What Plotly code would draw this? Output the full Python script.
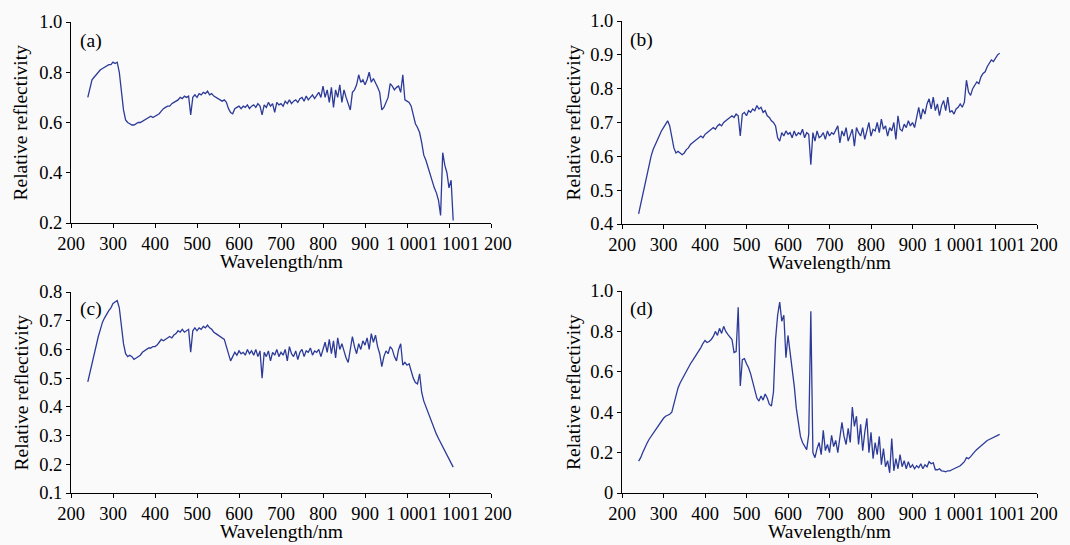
import plotly.graph_objects as go

# wavelength grid (nm), 5 nm spacing
wavelength = list(range(240, 1111, 5))

refl_a = [0.70, 0.74, 0.77, 0.78, 0.79, 0.80, 0.81, 0.815, 0.82, 0.825, 0.83, 0.83, 0.84, 0.835, 0.84,
          0.80, 0.72, 0.65, 0.61, 0.60, 0.595, 0.59, 0.59, 0.595, 0.60, 0.60, 0.605, 0.61, 0.615, 0.62,
          0.625, 0.62, 0.625, 0.63, 0.635, 0.645, 0.655, 0.66, 0.665, 0.665, 0.675, 0.68, 0.685, 0.69,
          0.70, 0.695, 0.705, 0.70, 0.705, 0.63, 0.70, 0.71, 0.70, 0.715, 0.71, 0.72, 0.715, 0.725,
          0.71, 0.715, 0.705, 0.70, 0.695, 0.69, 0.685, 0.69, 0.68, 0.655, 0.64, 0.635, 0.655, 0.66,
          0.665, 0.655, 0.665, 0.66, 0.67, 0.655, 0.665, 0.67, 0.66, 0.675, 0.665, 0.63, 0.67, 0.66,
          0.68, 0.665, 0.675, 0.64, 0.68, 0.67, 0.675, 0.665, 0.685, 0.675, 0.69, 0.675, 0.685, 0.69,
          0.68, 0.695, 0.70, 0.685, 0.705, 0.69, 0.70, 0.71, 0.695, 0.71, 0.72, 0.70, 0.745, 0.70,
          0.73, 0.68, 0.74, 0.66, 0.73, 0.70, 0.75, 0.68, 0.73, 0.70, 0.67, 0.65, 0.72, 0.73, 0.75,
          0.79, 0.76, 0.77, 0.75, 0.77, 0.80, 0.76, 0.775, 0.76, 0.74, 0.72, 0.65, 0.66, 0.68, 0.70,
          0.755, 0.745, 0.73, 0.74, 0.745, 0.72, 0.79, 0.69, 0.685, 0.68, 0.665, 0.635, 0.595, 0.58,
          0.56, 0.52, 0.47, 0.45, 0.42, 0.39, 0.37, 0.34, 0.32, 0.29, 0.23, 0.48, 0.43, 0.40, 0.34,
          0.37, 0.21]

refl_b = [0.43, 0.46, 0.49, 0.52, 0.55, 0.575, 0.60, 0.62, 0.635, 0.65, 0.66, 0.675, 0.685, 0.695,
          0.705, 0.69, 0.66, 0.625, 0.61, 0.615, 0.61, 0.605, 0.61, 0.62, 0.625, 0.635, 0.64, 0.645,
          0.65, 0.655, 0.66, 0.655, 0.665, 0.67, 0.675, 0.68, 0.685, 0.68, 0.69, 0.695, 0.69, 0.70,
          0.705, 0.71, 0.715, 0.72, 0.715, 0.725, 0.72, 0.66, 0.725, 0.73, 0.72, 0.735, 0.73, 0.74,
          0.735, 0.75, 0.74, 0.745, 0.73, 0.735, 0.72, 0.715, 0.705, 0.70, 0.69, 0.655, 0.645, 0.67,
          0.66, 0.675, 0.665, 0.67, 0.655, 0.675, 0.66, 0.67, 0.665, 0.68, 0.655, 0.67, 0.665, 0.575,
          0.67, 0.645, 0.675, 0.655, 0.66, 0.67, 0.65, 0.675, 0.66, 0.67, 0.665, 0.68, 0.69, 0.64,
          0.675, 0.66, 0.685, 0.645, 0.665, 0.68, 0.63, 0.685, 0.67, 0.66, 0.685, 0.65, 0.675, 0.70,
          0.66, 0.68, 0.675, 0.70, 0.67, 0.71, 0.68, 0.69, 0.66, 0.685, 0.675, 0.70, 0.65, 0.72,
          0.68, 0.675, 0.695, 0.685, 0.705, 0.69, 0.70, 0.685, 0.715, 0.745, 0.71, 0.74, 0.725,
          0.755, 0.77, 0.74, 0.775, 0.735, 0.755, 0.72, 0.75, 0.765, 0.735, 0.775, 0.73, 0.735,
          0.725, 0.74, 0.745, 0.755, 0.745, 0.76, 0.825, 0.79, 0.78, 0.80, 0.81, 0.82, 0.815, 0.835,
          0.845, 0.85, 0.865, 0.875, 0.885, 0.88, 0.89, 0.90, 0.905]

refl_c = [0.487, 0.52, 0.555, 0.59, 0.62, 0.645, 0.67, 0.695, 0.71, 0.725, 0.735, 0.745, 0.76, 0.765,
          0.77, 0.745, 0.68, 0.62, 0.585, 0.575, 0.58, 0.575, 0.565, 0.57, 0.575, 0.58, 0.59, 0.595,
          0.60, 0.605, 0.605, 0.61, 0.61, 0.615, 0.625, 0.635, 0.63, 0.635, 0.64, 0.645, 0.64, 0.65,
          0.655, 0.665, 0.66, 0.67, 0.66, 0.665, 0.67, 0.59, 0.665, 0.675, 0.665, 0.675, 0.67, 0.68,
          0.675, 0.685, 0.675, 0.67, 0.66, 0.655, 0.65, 0.645, 0.64, 0.635, 0.61, 0.58, 0.56, 0.575,
          0.59, 0.58, 0.595, 0.585, 0.59, 0.58, 0.60, 0.585, 0.595, 0.58, 0.60, 0.575, 0.595, 0.50,
          0.59, 0.575, 0.595, 0.56, 0.59, 0.58, 0.60, 0.575, 0.59, 0.58, 0.60, 0.56, 0.61, 0.585,
          0.575, 0.595, 0.565, 0.59, 0.60, 0.575, 0.595, 0.59, 0.605, 0.58, 0.595, 0.59, 0.60, 0.575,
          0.60, 0.625, 0.59, 0.635, 0.585, 0.63, 0.57, 0.64, 0.60, 0.62, 0.595, 0.57, 0.555, 0.60,
          0.645, 0.61, 0.585, 0.62, 0.60, 0.63, 0.615, 0.64, 0.60, 0.655, 0.625, 0.65, 0.61, 0.585,
          0.54, 0.575, 0.595, 0.585, 0.61, 0.60, 0.575, 0.56, 0.60, 0.62, 0.545, 0.555, 0.545, 0.55,
          0.525, 0.50, 0.485, 0.48, 0.515, 0.45, 0.42, 0.40, 0.385, 0.365, 0.34, 0.32, 0.305, 0.29,
          0.275, 0.26, 0.245, 0.23, 0.215, 0.20, 0.19]

refl_d = [0.158, 0.175, 0.20, 0.225, 0.245, 0.265, 0.28, 0.295, 0.315, 0.33, 0.345, 0.36, 0.37,
          0.38, 0.385, 0.39, 0.40, 0.44, 0.49, 0.52, 0.545, 0.565, 0.585, 0.60, 0.62, 0.64, 0.655,
          0.67, 0.685, 0.70, 0.72, 0.74, 0.755, 0.745, 0.75, 0.76, 0.775, 0.80, 0.78, 0.815, 0.79,
          0.825, 0.80, 0.785, 0.77, 0.76, 0.695, 0.70, 0.92, 0.53, 0.66, 0.665, 0.64, 0.62, 0.59,
          0.545, 0.51, 0.47, 0.455, 0.48, 0.46, 0.49, 0.47, 0.44, 0.43, 0.50, 0.76, 0.88, 0.945,
          0.85, 0.88, 0.67, 0.78, 0.70, 0.60, 0.53, 0.42, 0.34, 0.28, 0.25, 0.23, 0.215, 0.29, 0.90,
          0.20, 0.175, 0.22, 0.25, 0.19, 0.31, 0.21, 0.24, 0.20, 0.285, 0.23, 0.26, 0.20, 0.27, 0.35,
          0.28, 0.24, 0.32, 0.25, 0.425, 0.33, 0.38, 0.24, 0.34, 0.21, 0.30, 0.37, 0.20, 0.30, 0.17,
          0.25, 0.19, 0.28, 0.14, 0.22, 0.13, 0.16, 0.10, 0.27, 0.11, 0.17, 0.12, 0.19, 0.13, 0.16,
          0.12, 0.155, 0.125, 0.14, 0.12, 0.135, 0.125, 0.145, 0.12, 0.14, 0.13, 0.155, 0.145, 0.15,
          0.115, 0.115, 0.12, 0.11, 0.108, 0.105, 0.11, 0.11, 0.115, 0.12, 0.125, 0.13, 0.135, 0.145,
          0.155, 0.175, 0.17, 0.18, 0.195, 0.205, 0.215, 0.225, 0.235, 0.245, 0.25, 0.26, 0.265,
          0.27, 0.275, 0.28, 0.285, 0.29]

panel_labels = ["(a)", "(b)", "(c)", "(d)"]
x_tickvals = [200, 300, 400, 500, 600, 700, 800, 900, 1000, 1100, 1200]
x_ticktext = ["200", "300", "400", "500", "600", "700", "800", "900", "1 000", "1 100", "1 200"]
y_ranges = [[0.2, 1.0], [0.4, 1.0], [0.1, 0.8], [0.0, 1.0]]
y_tickvals = [[0.2, 0.4, 0.6, 0.8, 1.0],
              [0.4, 0.5, 0.6, 0.7, 0.8, 0.9, 1.0],
              [0.1, 0.2, 0.3, 0.4, 0.5, 0.6, 0.7, 0.8],
              [0.0, 0.2, 0.4, 0.6, 0.8, 1.0]]
y_ticktext = [["0.2", "0.4", "0.6", "0.8", "1.0"],
              ["0.4", "0.5", "0.6", "0.7", "0.8", "0.9", "1.0"],
              ["0.1", "0.2", "0.3", "0.4", "0.5", "0.6", "0.7", "0.8"],
              ["0", "0.2", "0.4", "0.6", "0.8", "1.0"]]
series = [refl_a, refl_b, refl_c, refl_d]

W, H = 1070, 545
# plot-area pixel boxes (left, right, top, bottom)
boxes = [(71, 491, 22, 223), (622, 1037, 21, 224), (71, 491, 292, 493), (622, 1037, 291, 493)]
ytitle_x = [20, 573, 21, 573]
label_pos = [(0.016, 0.905), (0.0145, 0.906), (0.016, 0.915), (0.0145, 0.91)]

FONT = "Liberation Serif"
LINE = "#2c3a98"
BG = "#fafafa"
TICK_SIZE = 18.5
TITLE_SIZE = 19.5

fig = go.Figure()
layout = dict(
    width=W, height=H,
    margin=dict(l=0, r=0, t=0, b=0, autoexpand=False),
    paper_bgcolor=BG, plot_bgcolor=BG,
    showlegend=False,
    font=dict(family=FONT, size=TITLE_SIZE, color="black"),
)
annotations = []
for i in range(4):
    sfx = "" if i == 0 else str(i + 1)
    l, r, t, b = boxes[i]
    xd = [l / W, r / W]
    yd = [1 - b / H, 1 - t / H]
    fig.add_trace(go.Scatter(x=wavelength, y=series[i], mode="lines",
                             line=dict(color=LINE, width=1.3),
                             xaxis="x" + sfx, yaxis="y" + sfx))
    axis_common = dict(showline=True, linecolor="black", linewidth=1, ticks="outside",
                       ticklen=4, tickwidth=1, tickcolor="black", showgrid=False,
                       zeroline=False, automargin=False,
                       tickfont=dict(family=FONT, size=TICK_SIZE, color="black"),
                       tickangle=0)
    layout["xaxis" + sfx] = dict(domain=xd, anchor="y" + sfx, range=[200, 1200],
                                 tickvals=x_tickvals, ticktext=x_ticktext, **axis_common)
    layout["yaxis" + sfx] = dict(domain=yd, anchor="x" + sfx, range=y_ranges[i],
                                 tickvals=y_tickvals[i], ticktext=y_ticktext[i], **axis_common)
    # y title
    annotations.append(dict(text="Relative reflectivity", textangle=-90, xref="paper", yref="paper",
                            x=ytitle_x[i] / W, y=1 - ((t + b) / 2) / H, showarrow=False,
                            xanchor="center", yanchor="middle",
                            font=dict(family=FONT, size=TITLE_SIZE, color="black")))
    # x title
    annotations.append(dict(text="Wavelength/nm", xref="paper", yref="paper",
                            x=((l + r) / 2) / W, y=1 - (b + 38) / H, showarrow=False,
                            xanchor="center", yanchor="middle",
                            font=dict(family=FONT, size=TITLE_SIZE, color="black")))
    # panel label
    annotations.append(dict(text=panel_labels[i], xref="x" + sfx + " domain", yref="y" + sfx + " domain",
                            x=label_pos[i][0], y=label_pos[i][1], showarrow=False,
                            xanchor="left", yanchor="middle",
                            font=dict(family=FONT, size=TITLE_SIZE, color="black")))
layout["annotations"] = annotations
fig.update_layout(**layout)
fig.write_html("out.html", config={"displayModeBar": False},
               post_script="document.body.style.margin='0';document.body.style.overflow='hidden';"
                           "document.body.style.background='" + BG + "';")
